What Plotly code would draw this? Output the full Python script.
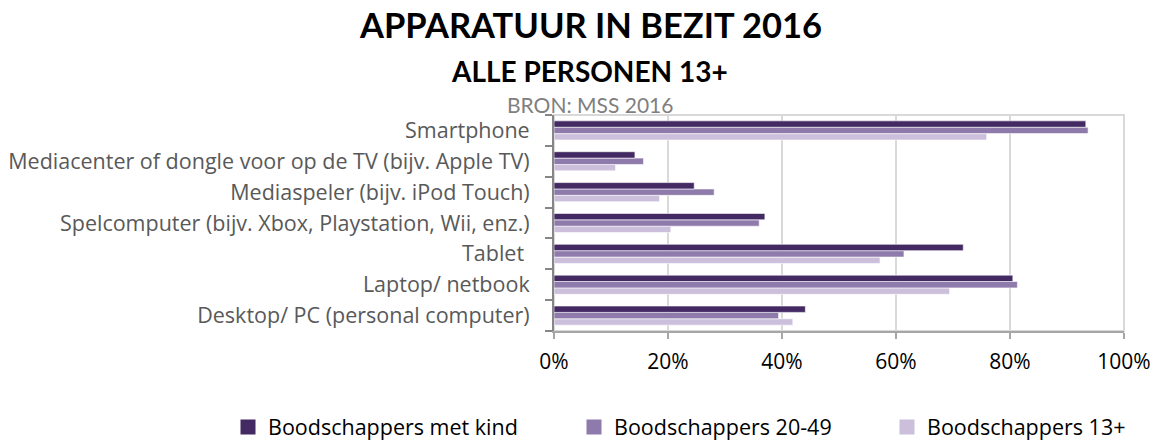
import plotly.graph_objects as go

categories = [
    "Desktop/ PC (personal computer)",
    "Laptop/ netbook",
    "Tablet ",
    "Spelcomputer (bijv. Xbox, Playstation, Wii, enz.)",
    "Mediaspeler (bijv. iPod Touch)",
    "Mediacenter of dongle voor op de TV (bijv. Apple TV)",
    "Smartphone",
]
series_names = ["Boodschappers met kind", "Boodschappers 20-49", "Boodschappers 13+"]
met_kind = [0.441, 0.805, 0.718, 0.370, 0.246, 0.142, 0.933]
b20_49 = [0.394, 0.813, 0.614, 0.360, 0.281, 0.157, 0.937]
b13 = [0.419, 0.694, 0.572, 0.205, 0.185, 0.108, 0.759]
colors = ["#432a63", "#8f7bab", "#cbbfdb"]
tick_vals = [0, 0.2, 0.4, 0.6, 0.8, 1.0]
tick_text = ["0%", "20%", "40%", "60%", "80%", "100%"]

LBL = "Open Sans"
TTL = "Lato"
W, H = 1160, 441
ML, MR, MT, MB = 554, 36, 115, 110
PW = W - ML - MR
PH = H - MT - MB


def px_x(p):
    return (p - ML) / PW


def px_y(p):
    return 1 - (p - MT) / PH


fig = go.Figure()
# bars: first trace is drawn lowest within a group
for name, vals, col in zip(series_names[::-1], [b13, b20_49, met_kind], colors[::-1]):
    fig.add_trace(go.Bar(
        y=categories, x=vals, name=name, orientation="h", showlegend=False,
        marker=dict(color=col, line=dict(color="white", width=0.6)),
    ))

# legend entries (square markers), one legend each so they can be spaced like the original
legend_ids = ["legend", "legend2", "legend3"]
legend_left_px = [228, 574, 887]
for name, col, lid in zip(series_names, colors, legend_ids):
    fig.add_trace(go.Scatter(
        x=[None], y=[None], mode="markers", name=name, legend=lid,
        marker=dict(symbol="square", size=15, color=col),
    ))

legend_common = dict(
    orientation="h", yanchor="middle", xanchor="left",
    y=px_y(427), bgcolor="rgba(0,0,0,0)",
    font=dict(size=21.5, color="#000000", family=LBL),
)
layout_legends = {}
for lid, lx in zip(legend_ids, legend_left_px):
    layout_legends[lid] = dict(legend_common, x=px_x(lx))

fig.update_layout(
    width=W, height=H,
    margin=dict(l=ML, r=MR, t=MT, b=MB, autoexpand=False),
    paper_bgcolor="white", plot_bgcolor="white",
    barmode="group", bargap=0.38, bargroupgap=0.0,
    font=dict(family=LBL, color="#595959", size=20),
    showlegend=True,
    xaxis=dict(
        range=[0, 1], tickvals=tick_vals, ticktext=tick_text,
        showgrid=True, gridcolor="#d9d9d9", gridwidth=2,
        showline=True, linecolor="#a6a6a6", linewidth=2,
        ticks="outside", ticklen=6, tickcolor="#a6a6a6", tickwidth=2,
        tickfont=dict(size=21, color="#000000", family=LBL),
        ticklabelstandoff=5,
        zeroline=False, fixedrange=True, automargin=False,
    ),
    yaxis=dict(
        categoryorder="array", categoryarray=categories,
        showline=True, linecolor="#868686", linewidth=2,
        ticks="outside", ticklen=7, tickcolor="#868686", tickwidth=2,
        tickson="boundaries",
        tickfont=dict(size=21.5, color="#595959", family=LBL),
        ticklabelstandoff=18,
        showgrid=False, fixedrange=True, automargin=False,
    ),
    shapes=[
        dict(type="rect", xref="paper", yref="paper", x0=0, x1=1, y0=0, y1=1,
             line=dict(color="#d9d9d9", width=2), layer="below"),
    ],
    annotations=[
        dict(text="<b>APPARATUUR IN BEZIT 2016</b>", x=px_x(590), y=px_y(25),
             xref="paper", yref="paper", showarrow=False, xanchor="center", yanchor="middle",
             font=dict(size=34.5, color="#000000", family=TTL)),
        dict(text="<b>ALLE PERSONEN 13+</b>", x=px_x(589), y=px_y(71),
             xref="paper", yref="paper", showarrow=False, xanchor="center", yanchor="middle",
             font=dict(size=28, color="#000000", family=TTL)),
        dict(text="BRON: MSS 2016", x=px_x(590), y=px_y(104),
             xref="paper", yref="paper", showarrow=False, xanchor="center", yanchor="middle",
             font=dict(size=21, color="#7f7f7f", family=TTL)),
    ],
    **layout_legends,
)
fig.write_html(
    "out.html",
    config={"displayModeBar": False},
    post_script="document.body.style.margin='0px';document.body.style.padding='0px';",
)
